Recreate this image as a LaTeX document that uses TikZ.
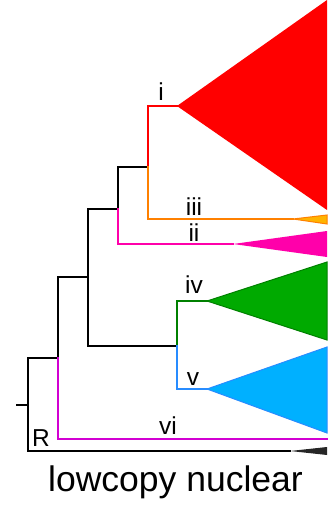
\documentclass[tikz,border=0pt]{standalone}
\usepackage{fontspec}
\setmainfont{Liberation Sans}
\usetikzlibrary{positioning}
\definecolor{cladeI}{RGB}{255,0,0}
\definecolor{cladeIIIline}{RGB}{255,128,0}
\definecolor{cladeIIIfill}{RGB}{255,180,0}
\definecolor{cladeII}{RGB}{255,0,170}
\definecolor{cladeIVline}{RGB}{0,128,0}
\definecolor{cladeIVfill}{RGB}{0,170,0}
\definecolor{cladeVline}{RGB}{40,140,255}
\definecolor{cladeVfill}{RGB}{0,176,255}
\definecolor{cladeVI}{RGB}{210,0,210}

\begin{document}
\begin{tikzpicture}[x=1pt, y=-1pt, line width=1.5pt, line cap=rect]
      \tikzstyle{clade}=[font=\fontsize{24.5}{25}\selectfont, inner sep=0pt, anchor=base]
      \tikzstyle{title}=[font=\fontsize{35.5}{37}\selectfont, inner sep=0pt, anchor=base]
      \useasboundingbox (0,0) rectangle (327,508);

      % Inner nodes
      \coordinate (root) at (17,405);
      \coordinate (n0) at (28,405);
      \coordinate (n1) at (58,358);
      \coordinate (n2) at (88,277);
      \coordinate (n3) at (118,209);
      \coordinate (n4) at (148,167);
      \coordinate (n5) at (177,346);

      % Tips
      \coordinate (tI)   at (177,106);
      \coordinate (tIII) at (293,219);
      \coordinate (tII)  at (233,244);
      \coordinate (tIV)  at (207,301);
      \coordinate (tV)   at (207,389);
      \coordinate (tVI)  at (327,439);
      \coordinate (tR)   at (290,451);

      % Branches
      \draw (root) -- (n0);
      \draw (n0) |- (n1);
      \draw (n0) |- (tR);
      \draw (n1) |- (n2);
      \draw[cladeVI] (n1) |- (tVI);
      \draw (n2) |- (n3);
      \draw (n2) |- (n5);
      \draw (n3) |- (n4);
      \draw[cladeII] (n3) |- (tII);
      \draw[cladeI] (n4) |- (tI);
      \draw[cladeIIIline] (n4) |- (tIII);
      \draw[cladeIVline] (n5) |- (tIV);
      \draw[cladeVline] (n5) |- (tV);

      % Collapsed clades
      \fill[cladeI] (tI) -- (327,0) -- (327,210) -- cycle;
      \filldraw[cladeIIIline, fill=cladeIIIfill, line width=1pt] (tIII) -- (327,215) -- (327,224) -- cycle;
      \fill[cladeII] (tII) -- (327,231) -- (327,257) -- cycle;
      \filldraw[cladeIVline, fill=cladeIVfill, line width=1pt] (tIV) -- (327,262) -- (327,340) -- cycle;
      \filldraw[cladeVline, fill=cladeVfill, line width=1pt] (tV) -- (327,347) -- (327,433) -- cycle;
      \fill[black!85] (tR) -- (327,447) -- (327,455) -- cycle;

      % Labels
      \node[clade] (lI)   at (161,101)   {i};
      \node[clade] (lIII) at (194,215.5) {iii};
      \node[clade] (lII)  at (194,241)   {ii};
      \node[clade] (lIV)  at (194,293)   {iv};
      \node[clade] (lV)   at (193,385)   {v};
      \node[clade] (lVI)  at (168,434)   {vi};
      \node[clade] (lR)   at (41,446.5)  {R};
      \node[title] (ttl)  at (175.5,491.5) {lowcopy nuclear};
\end{tikzpicture}
\end{document}
